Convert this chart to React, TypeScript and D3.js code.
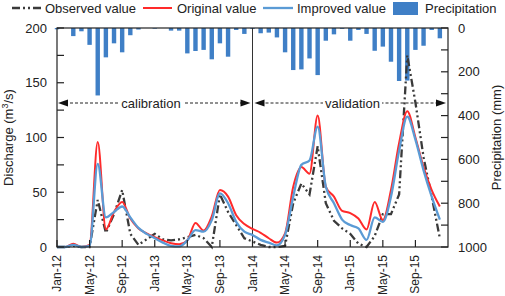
import React from 'react';
import * as d3 from 'd3';

// Monthly series, Jan-12 .. Dec-15 (48 months)
const precipitation = [6, 0, 37, 15, 77, 308, 134, 70, 111, 33, 7, 0,
  3, 0, 12, 12, 116, 105, 100, 143, 70, 131, 9, 27,
  4, 24, 21, 43, 111, 192, 189, 139, 215, 58, 29, 4,
  58, 9, 27, 104, 85, 154, 242, 240, 100, 81, 9, 47];

const observed = [0, 0, 1, 0, 0, 43, 13, 30, 52, 12, 2, 7,
  12, 7, 6, 7, 9, 11, 8, 0, 48, 32, 20, 8,
  5, 2, 0, 0, 1, 40, 58, 48, 92, 40, 24, 17,
  12, 3, 0, 10, 30, 30, 48, 175, 132, 82, 46, 8];

const original = [0, 0, 3, 0, 2, 96, 16, 32, 41, 26, 17, 12.5,
  9, 6, 3.5, 2.5, 6, 22, 15, 28, 52, 46, 29, 21,
  16.5, 13, 8, 4, 12.5, 55, 73, 67, 120, 55, 46, 33,
  31, 26, 16, 41, 24.5, 52, 95, 124, 100, 73, 52, 37];

const improved = [0, 0, 2, 0, 1, 76, 27, 32, 37, 27, 17.5, 12,
  8, 4, 1, 0.5, 6, 15.5, 14, 24.5, 49, 40, 23, 14,
  11, 6.5, 4, 1.5, 11, 46, 75, 79, 110, 55, 40, 25,
  20, 17, 6.5, 27, 23, 46, 88, 119, 98, 70, 46, 25];

const xTickLabels = ['Jan-12', 'May-12', 'Sep-12', 'Jan-13', 'May-13', 'Sep-13',
  'Jan-14', 'May-14', 'Sep-14', 'Jan-15', 'May-15', 'Sep-15'];
const leftTickLabels = [0, 50, 100, 150, 200];
const rightTickLabels = [0, 200, 400, 600, 800, 1000];

const FONT = '"Liberation Sans", Arial, Helvetica, sans-serif';
const C_OBS = '#3a3a3a';
const C_ORI = '#ff2a2a';
const C_IMP = '#5b9bd5';
const C_BAR = '#3f7fc6';
const OBS_DASH = '8,3,2,3,2,3';

export default function App() {
  const x = d3.scaleLinear().domain([0, 48]).range([57, 448]);
  const yL = d3.scaleLinear().domain([0, 200]).range([247, 28]);
  const yR = d3.scaleLinear().domain([0, 1000]).range([28, 247]);
  const [x0, x1] = x.range();
  const [yb, yt] = yL.range();

  const smooth = d3.line<number>().x((_, i) => x(i)).y(d => yL(d)).curve(d3.curveMonotoneX);
  const straight = d3.line<number>().x((_, i) => x(i)).y(d => yL(d));

  const barW = 4.4;
  const tickLen = 7;
  const annY = 103;

  const arrow = (tip: number, dir: number) => {
    const base = tip + dir * 10;
    return `${tip},${annY} ${base},${annY - 3.5} ${base},${annY + 3.5}`;
  };

  const xSplit = x(24);

  return (
    <svg width={505} height={296} style={{ position: 'absolute', left: 0, top: 0, background: '#fff' }}
      fontFamily={FONT} fontSize={13}>
      <rect x={0} y={0} width={505} height={296} fill="#fff" />
      {/* precipitation bars */}
      {precipitation.map((v, i) => (
        <rect key={'b' + i} x={x(i) - barW / 2} y={yR(0)} width={barW} height={yR(v) - yR(0)} fill={C_BAR} />
      ))}
      {/* split line */}
      <line x1={xSplit} x2={xSplit} y1={yt} y2={yb} stroke="#333" strokeWidth={1} />
      {/* annotation arrows */}
      <line x1={x0 + 8} x2={xSplit - 8} y1={annY} y2={annY} stroke="#222" strokeWidth={1} strokeDasharray="3,2" />
      <line x1={xSplit + 8} x2={x1 - 8} y1={annY} y2={annY} stroke="#222" strokeWidth={1} strokeDasharray="3,2" />
      <polygon points={arrow(x0 + 1, 1)} fill="#111" />
      <polygon points={arrow(xSplit - 2, -1)} fill="#111" />
      <polygon points={arrow(xSplit + 2, 1)} fill="#111" />
      <polygon points={arrow(x1 - 2, -1)} fill="#111" />
      <rect x={119} y={95} width={64} height={15} fill="#fff" />
      <text x={151} y={107.5} textAnchor="middle" fill="#222">calibration</text>
      <rect x={323} y={95} width={59} height={15} fill="#fff" />
      <text x={352.5} y={107.5} textAnchor="middle" fill="#222">validation</text>
      {/* lines */}
      <path d={straight(observed) || ''} fill="none" stroke={C_OBS} strokeWidth={2.3} strokeDasharray={OBS_DASH} />
      <path d={smooth(original) || ''} fill="none" stroke={C_ORI} strokeWidth={2} />
      <path d={smooth(improved) || ''} fill="none" stroke={C_IMP} strokeWidth={2.3} />
      {/* frame */}
      <rect x={x0} y={yt} width={x1 - x0} height={yb - yt} fill="none" stroke="#222" strokeWidth={1.2} />
      {/* left ticks */}
      {d3.range(0, 201, 25).map(v => (
        <line key={'lt' + v} x1={x0} x2={x0 + tickLen} y1={yL(v)} y2={yL(v)} stroke="#222" strokeWidth={1.2} />
      ))}
      {leftTickLabels.map(v => (
        <text key={'ll' + v} x={x0 - 10} y={yL(v)} textAnchor="end" dominantBaseline="central" fill="#222">{v}</text>
      ))}
      {/* right ticks */}
      {d3.range(0, 1001, 100).map(v => (
        <line key={'rt' + v} x1={x1} x2={x1 - tickLen} y1={yR(v)} y2={yR(v)} stroke="#222" strokeWidth={1.2} />
      ))}
      {rightTickLabels.map(v => (
        <text key={'rl' + v} x={x1 + 10} y={yR(v)} textAnchor="start" dominantBaseline="central" fill="#222">{v}</text>
      ))}
      {/* bottom ticks */}
      {xTickLabels.map((lab, k) => (
        <g key={'xt' + k}>
          <line x1={x(k * 4)} x2={x(k * 4)} y1={yb} y2={yb - tickLen} stroke="#222" strokeWidth={1.2} />
          <text transform={`translate(${x(k * 4)},${yb + 8}) rotate(-90)`} textAnchor="end" dominantBaseline="central"
            fontSize={12} fill="#222">{lab}</text>
        </g>
      ))}
      {/* axis titles */}
      <text transform={`translate(12.5,${(yt + yb) / 2}) rotate(-90)`} textAnchor="middle" fill="#222">
        Discharge (m<tspan dy={-5} fontSize={9}>3</tspan><tspan dy={5}>/s)</tspan>
      </text>
      <text transform={`translate(501,${(yt + yb) / 2}) rotate(-90)`} textAnchor="middle" fill="#222">Precipitation (mm)</text>
      {/* legend */}
      <g>
        <line x1={12} x2={43} y1={8} y2={8} stroke={C_OBS} strokeWidth={2.3} strokeDasharray={OBS_DASH} />
        <text x={45} y={12.5} fill="#222">Observed value</text>
        <line x1={143} x2={172} y1={8} y2={8} stroke={C_ORI} strokeWidth={2} />
        <text x={177} y={12.5} fill="#222">Original value</text>
        <line x1={263} x2={293} y1={8} y2={8} stroke={C_IMP} strokeWidth={2.3} />
        <text x={297} y={12.5} fill="#222">Improved value</text>
        <rect x={393} y={2} width={25} height={13} fill={C_BAR} />
        <text x={425} y={12.5} fill="#222">Precipitation</text>
      </g>
    </svg>
  );
}
